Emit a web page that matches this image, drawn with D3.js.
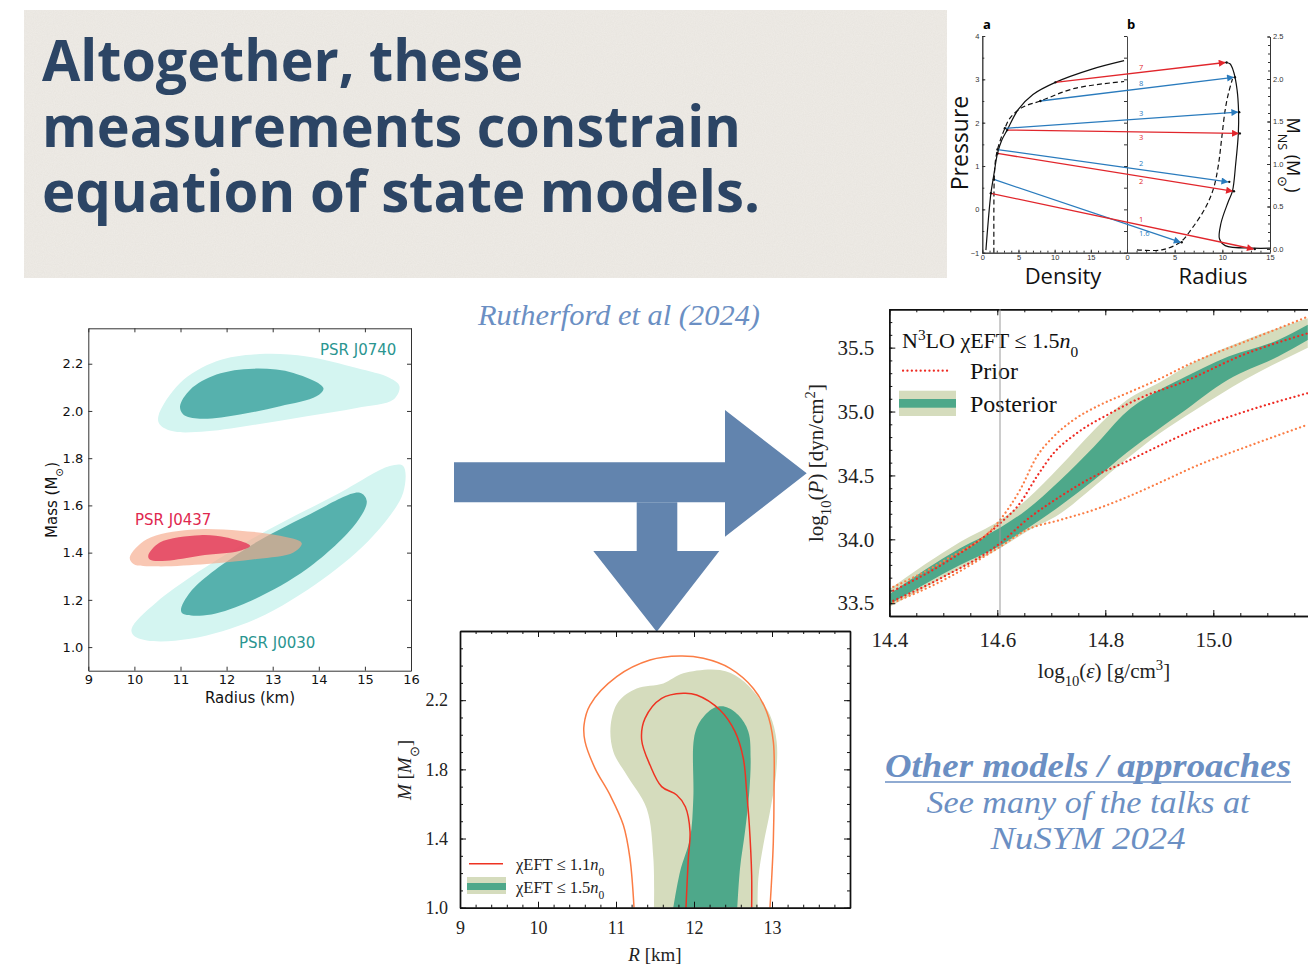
<!DOCTYPE html>
<html>
<head>
<meta charset="utf-8">
<script src="https://cdn.jsdelivr.net/npm/d3@7"></script>
<style>
  html, body { margin: 0; padding: 0; background: #fff; overflow: hidden; }
  svg { display: block; }
</style>
</head>
<body>
<svg id="slide" width="1308" height="965"></svg>
<script>
// ---------------- slide text ----------------
const titleLines = ['Altogether, these', 'measurements constrain', 'equation of state models.'];
const citation = 'Rutherford et al (2024)';
const otherLines = ['Other models / approaches', 'See many of the talks at', 'NuSYM 2024'];

// ---------------- inset: (a) pressure vs density, (b) mass vs radius ----------------
const densityTicks = [0, 5, 10, 15];
const pressureTicks = [-1, 0, 1, 2, 3, 4];
const radiusTicksB = [0, 5, 10, 15];
const massTicksB = [0, 0.5, 1.0, 1.5, 2.0, 2.5];
const eosSolid = [[0.5,-0.94],[0.83,-0.25],[1.19,0.37],[1.6,0.8],[2.1,1.29],[2.7,1.6],[3.44,1.83],[4.95,2.3],[7,2.65],[10.1,2.93],[15.05,3.23],[19.6,3.43]];
const eosDashed = [[1.6,-1],[1.6,0.0],[1.65,0.7],[1.8,1.1],[2.1,1.38],[2.6,1.65],[3.12,1.87],[3.8,2.1],[5.5,2.35],[8.03,2.5],[12.75,2.79],[19.6,2.95]];
const mrSolid = [[15,0.01],[13.25,0.01],[10.3,0.04],[9.7,0.12],[9.85,0.3],[10.6,0.55],[11.06,0.68],[11.4,1.0],[11.68,1.36],[11.7,1.63],[11.55,1.87],[11.2,2.08],[10.8,2.18],[10.29,2.194]];
const mrDashed = [[1.05,-0.01],[3.66,-0.01],[5.58,0.08],[6.8,0.24],[8.2,0.48],[9.07,0.71],[9.59,0.99],[9.94,1.31],[10.29,1.63],[10.64,1.83],[11.06,2.0]];
const arrowLabels = ['7', '8', '3', '3', '2', '2', '1.6', '1'];
const arrowKinds = ['red', 'blue', 'blue', 'red', 'blue', 'red', 'blue', 'red'];
const arrowStart = [[10.1,2.93],[8.03,2.50],[3.12,1.87],[3.44,1.83],[2.1,1.38],[2.1,1.29],[1.6,0.69],[1.19,0.37]];
const arrowEnd = [[10.29,2.194],[11.16,2.02],[11.61,1.61],[11.68,1.36],[10.57,0.79],[11.06,0.68],[5.58,0.08],[13.25,0.0]];
const arrowLabelSide = [1, 1, 1, -1, 1, -1, -1, 1];

// ---------------- left: NICER mass-radius contours [R km, M Msun] ----------------
const radiusTicks = [9, 10, 11, 12, 13, 14, 15, 16];
const massTicks = [1.0, 1.2, 1.4, 1.6, 1.8, 2.0, 2.2];
const j0740Outer = [[10.52,1.978],[10.99,2.118],[11.78,2.21],[12.72,2.241],[13.74,2.231],[14.82,2.182],[15.54,2.14],[15.75,2.105],[15.62,2.048],[14.82,2.013],[13.74,1.978],[12.65,1.943],[11.57,1.914],[10.84,1.914],[10.55,1.943]];
const j0740Inner = [[10.99,2.02],[11.21,2.09],[11.78,2.154],[12.58,2.179],[13.45,2.161],[14.1,2.097],[13.95,2.062],[13.16,2.02],[12.29,1.985],[11.42,1.967],[11.06,1.985]];
const j0030Outer = [[9.94,1.078],[10.48,1.19],[12.29,1.429],[14.46,1.654],[15.54,1.767],[15.83,1.767],[15.83,1.654],[15.18,1.471],[14.1,1.289],[12.65,1.12],[11.21,1.035],[10.27,1.028],[9.98,1.05]];
const j0030Inner = [[11.02,1.148],[11.21,1.232],[12.29,1.401],[13.74,1.556],[14.89,1.654],[15.04,1.619],[14.82,1.528],[13.74,1.331],[12.29,1.176],[11.49,1.134]];
const j0437Outer = [[9.9,1.38],[10.27,1.457],[11.21,1.497],[12.29,1.493],[13.16,1.471],[13.63,1.44],[13.45,1.401],[12.65,1.373],[11.57,1.352],[10.48,1.342],[9.98,1.352]];
const j0437Inner = [[10.3,1.387],[10.55,1.443],[11.42,1.474],[12.0,1.464],[12.51,1.429],[12.29,1.408],[11.42,1.387],[10.7,1.366],[10.34,1.37]];
const pulsarNames = ['PSR J0740', 'PSR J0437', 'PSR J0030'];

// ---------------- right: EOS posterior, log10(eps) vs log10(P) ----------------
const epsTicks = [14.4, 14.6, 14.8, 15.0];
const logPTicks = [33.5, 34.0, 34.5, 35.0, 35.5];
const darkEps = [14.4, 14.531, 14.605, 14.654, 14.716, 14.778, 14.84, 14.901, 14.938, 15.028, 15.12, 15.175];
const darkLow = [33.49, 33.80, 33.95, 34.08, 34.26, 34.46, 34.68, 34.87, 34.98, 35.25, 35.43, 35.56];
const darkHigh = [33.57, 33.93, 34.09, 34.23, 34.46, 34.72, 35.0, 35.17, 35.25, 35.43, 35.56, 35.68];
const lightEps = [14.4, 14.531, 14.605, 14.654, 14.716, 14.778, 14.84, 14.901, 14.966, 15.059, 15.175];
const lightLow = [33.47, 33.77, 33.93, 34.06, 34.2, 34.41, 34.63, 34.83, 35.01, 35.25, 35.5];
const lightHigh = [33.61, 33.98, 34.15, 34.31, 34.57, 34.85, 35.09, 35.23, 35.39, 35.56, 35.73];
const priorOuterHigh = [[14.4,33.614],[14.503,33.836],[14.605,34.151],[14.642,34.386],[14.673,34.646],[14.704,34.803],[14.741,34.934],[14.79,35.051],[14.84,35.143],[14.889,35.233],[14.966,35.391],[15.059,35.547],[15.175,35.742]];
const priorInnerHigh = [[14.4,33.583],[14.503,33.817],[14.605,34.125],[14.642,34.282],[14.673,34.49],[14.704,34.673],[14.747,34.83],[14.809,34.986],[14.87,35.116],[14.938,35.22],[15.059,35.45],[15.175,35.612]];
const priorInnerLow = [[14.4,33.505],[14.503,33.713],[14.605,33.969],[14.654,34.151],[14.716,34.334],[14.778,34.49],[14.84,34.61],[14.904,34.74],[14.966,34.86],[15.059,35.0],[15.175,35.144]];
const priorOuterLow = [[14.4,33.492],[14.503,33.687],[14.605,33.942],[14.654,34.073],[14.716,34.151],[14.778,34.229],[14.84,34.33],[14.904,34.45],[14.966,34.57],[15.059,34.72],[15.175,34.897]];
const nsatLine = 14.605;

// ---------------- bottom: M-R posterior ----------------
const rTicks = [9, 10, 11, 12, 13];
const mTicks = [1.0, 1.4, 1.8, 2.2];
const mrLight = [[11.487,1.0],[11.479,1.285],[11.393,1.574],[11.137,1.767],[10.966,1.902],[10.932,2.056],[11.03,2.191],[11.265,2.268],[11.607,2.297],[11.863,2.355],[12.333,2.374],[12.59,2.326],[12.803,2.23],[12.974,2.114],[13.06,1.96],[13.051,1.767],[12.974,1.555],[12.889,1.362],[12.825,1.17],[12.816,1.0]];
const mrDark = [[11.735,1.0],[11.821,1.208],[11.949,1.401],[11.991,1.632],[12.0,1.979],[12.077,2.076],[12.248,2.153],[12.397,2.162],[12.568,2.114],[12.697,2.018],[12.726,1.864],[12.709,1.671],[12.654,1.44],[12.59,1.227],[12.556,1.0]];
const mr11Line = [[11.897,1.0],[11.927,1.285],[11.949,1.44],[11.889,1.584],[11.778,1.652],[11.585,1.7],[11.436,1.825],[11.329,1.97],[11.372,2.095],[11.585,2.211],[11.863,2.24],[12.034,2.23],[12.333,2.143],[12.526,2.018],[12.632,1.864],[12.675,1.671],[12.709,1.478],[12.739,1.189],[12.739,1.0]];
const mr15Outer = [[11.231,1.0],[11.179,1.285],[11.094,1.478],[10.923,1.652],[10.731,1.806],[10.603,1.96],[10.59,2.056],[10.667,2.172],[11.009,2.336],[11.436,2.432],[11.821,2.455],[12.12,2.442],[12.462,2.384],[12.761,2.268],[12.932,2.133],[13.017,1.96],[13.026,1.671],[13.017,1.382],[12.996,1.17],[12.974,1.0]];

// ---------------- drawing ----------------
const svg = d3.select('#slide');
const defs = svg.append('defs');
const slideBlue = '#6b8fc3';

// helper: text with sub / superscripts and italics
function rich(sel, parts) {
    parts.forEach(([t, k]) => {
        const ts = sel.append('tspan').text(t);
        if (k && k.includes('it')) ts.attr('font-style', 'italic');
        if (k && k.includes('sup')) ts.attr('font-size', '70%').attr('baseline-shift', 'super');
        if (k && k.includes('sub')) ts.attr('font-size', '70%').attr('baseline-shift', 'sub');
    });
    return sel;
}

// paper banner
const paper = defs.append('filter').attr('id', 'paper')
    .attr('x', 0).attr('y', 0).attr('width', 1).attr('height', 1);
paper.append('feTurbulence').attr('type', 'fractalNoise')
    .attr('baseFrequency', 0.9).attr('numOctaves', 2).attr('seed', 4).attr('result', 'n');
paper.append('feColorMatrix').attr('in', 'n').attr('type', 'matrix')
    .attr('values', '0 0 0 0 0.6  0 0 0 0 0.57  0 0 0 0 0.52  0 0 0 0.22 0');
svg.append('rect').attr('x', 24).attr('y', 10).attr('width', 923).attr('height', 268).attr('fill', '#efece7');
svg.append('rect').attr('x', 24).attr('y', 10).attr('width', 923).attr('height', 268).attr('filter', 'url(#paper)');

const titleWidths = [481, 699, 718];
svg.append('g').selectAll('text').data(titleLines).join('text')
    .attr('x', 42).attr('y', (d, i) => 81 + i * 65.5)
    .attr('textLength', (d, i) => titleWidths[i]).attr('lengthAdjust', 'spacingAndGlyphs')
    .attr('font-family', 'Open Sans').attr('font-weight', 700).attr('font-size', 58)
    .attr('fill', '#2c4565').text(d => d);

// ---------- inset ----------
const inset = svg.append('g').attr('font-family', 'Open Sans');
inset.append('rect').attr('x', 948).attr('y', 16).attr('width', 360).attr('height', 274).attr('fill', '#fff');
const aX = d3.scaleLinear([0, 20], [982.3, 1127]);
const pY = d3.scaleLinear([-1, 4], [252.7, 36]);
const bX = d3.scaleLinear([0, 15], [1127, 1270]);
const mY = d3.scaleLinear([0, 2.5], [249, 36.5]);

function styleInsetAxis(g) {
    g.select('.domain').attr('stroke', '#333').attr('stroke-width', 0.9);
    g.selectAll('.tick line').attr('stroke', '#333');
    g.selectAll('.tick text').attr('font-size', 7.5).attr('fill', '#333');
}
inset.append('g').attr('transform', 'translate(982.3,0)')
    .call(d3.axisLeft(pY).tickValues(pressureTicks).tickSize(-3).tickSizeOuter(0).tickPadding(3).tickFormat(d3.format('d')))
    .call(styleInsetAxis);
inset.append('g').attr('transform', 'translate(982.3,0)')
    .call(d3.axisLeft(pY).tickValues(d3.range(-1, 4.01, 0.5)).tickSize(-2).tickSizeOuter(0).tickFormat(''))
    .call(styleInsetAxis);
inset.append('g').attr('transform', 'translate(0,252.7)')
    .call(d3.axisBottom(aX).tickValues(densityTicks).tickSize(-3).tickSizeOuter(0).tickPadding(2).tickFormat(d3.format('d')))
    .call(styleInsetAxis);
inset.append('g').attr('transform', 'translate(0,252.7)')
    .call(d3.axisBottom(aX).tickValues(d3.range(0, 20, 1)).tickSize(-2).tickSizeOuter(0).tickFormat(''))
    .call(styleInsetAxis);
inset.append('g').attr('transform', 'translate(0,252.7)')
    .call(d3.axisBottom(bX).tickValues(radiusTicksB).tickSize(-3).tickSizeOuter(0).tickPadding(2).tickFormat(d3.format('d')))
    .call(styleInsetAxis);
inset.append('g').attr('transform', 'translate(0,252.7)')
    .call(d3.axisBottom(bX).tickValues(d3.range(0, 15, 1)).tickSize(-2).tickSizeOuter(0).tickFormat(''))
    .call(styleInsetAxis);
inset.append('g').attr('transform', 'translate(1270,0)')
    .call(d3.axisRight(mY).tickValues(massTicksB).tickSize(-3).tickSizeOuter(0).tickPadding(3).tickFormat(d3.format('.1f')))
    .call(styleInsetAxis);
inset.append('g').attr('transform', 'translate(1270,0)')
    .call(d3.axisRight(mY).tickValues(d3.range(0, 2.51, 0.1)).tickSize(-2).tickSizeOuter(0).tickFormat(''))
    .call(styleInsetAxis);
inset.append('g').attr('transform', 'translate(1127,0)')
    .call(d3.axisLeft(pY).tickValues(d3.range(-1, 4.01, 0.5)).tickSize(3).tickSizeOuter(0).tickFormat(''))
    .call(styleInsetAxis);

const insetLineA = d3.line().x(d => aX(d[0])).y(d => pY(d[1])).curve(d3.curveCatmullRom);
const insetLineB = d3.line().x(d => bX(d[0])).y(d => mY(d[1])).curve(d3.curveCatmullRom);
inset.append('path').attr('d', insetLineA(eosSolid))
    .attr('fill', 'none').attr('stroke', '#111').attr('stroke-width', 1.2);
inset.append('path').attr('d', insetLineA(eosDashed))
    .attr('fill', 'none').attr('stroke', '#111').attr('stroke-width', 1.2).attr('stroke-dasharray', '5,3');
inset.append('path').attr('d', insetLineB(mrSolid))
    .attr('fill', 'none').attr('stroke', '#111').attr('stroke-width', 1.2);
inset.append('path').attr('d', insetLineB(mrDashed))
    .attr('fill', 'none').attr('stroke', '#111').attr('stroke-width', 1.2).attr('stroke-dasharray', '5,3');

const kindColor = { red: '#e1262c', blue: '#2a7bbd' };
['red', 'blue'].forEach(k => {
    defs.append('marker').attr('id', 'head-' + k)
        .attr('viewBox', '0 0 10 10').attr('refX', 9).attr('refY', 5)
        .attr('markerWidth', 9).attr('markerHeight', 7).attr('markerUnits', 'userSpaceOnUse')
        .attr('orient', 'auto')
        .append('path').attr('d', 'M0,0L10,5L0,10Z').attr('fill', kindColor[k]);
});
arrowLabels.forEach((lab, i) => {
    const x0 = aX(arrowStart[i][0]), y0 = pY(arrowStart[i][1]);
    const x1 = bX(arrowEnd[i][0]), y1 = mY(arrowEnd[i][1]);
    inset.append('line').attr('x1', x0).attr('y1', y0).attr('x2', x1).attr('y2', y1)
        .attr('stroke', kindColor[arrowKinds[i]]).attr('stroke-width', 1.3)
        .attr('marker-end', `url(#head-${arrowKinds[i]})`);
    inset.append('circle').attr('cx', x0).attr('cy', y0).attr('r', 1.2).attr('fill', '#111');
    inset.append('circle').attr('cx', x1 + 1.5).attr('cy', y1).attr('r', 1.2).attr('fill', '#111');
    const lx = 1139;
    const ly = y0 + (y1 - y0) * (lx - x0) / (x1 - x0);
    inset.append('text').attr('x', lx).attr('y', arrowLabelSide[i] > 0 ? ly - 3 : ly + 8)
        .attr('font-size', 7.5).attr('fill', kindColor[arrowKinds[i]]).text(lab);
});
inset.append('text').attr('x', 983).attr('y', 29).attr('font-size', 13).attr('font-weight', 700).text('a');
inset.append('text').attr('x', 1127).attr('y', 29).attr('font-size', 13).attr('font-weight', 700).text('b');
inset.append('text').attr('x', 1063).attr('y', 284).attr('text-anchor', 'middle').attr('font-size', 22).attr('fill', '#111').text('Density');
inset.append('text').attr('x', 1213).attr('y', 284).attr('text-anchor', 'middle').attr('font-size', 22).attr('fill', '#111').text('Radius');
inset.append('text').attr('transform', 'translate(968,143) rotate(-90)').attr('text-anchor', 'middle')
    .attr('font-size', 23).attr('fill', '#111').text('Pressure');
rich(inset.append('text').attr('transform', 'translate(1287,155) rotate(90)').attr('text-anchor', 'middle')
    .attr('font-size', 18).attr('fill', '#111'), [['M'], ['NS', 'sub'], [' (M'], ['⊙', 'sub'], [')']]);

// ---------- big arrows ----------
svg.append('path').attr('fill', '#6284ae')
    .attr('d', 'M454,462.3H725V410L806.7,473.3L725,536.7V502.3H454Z');
svg.append('path').attr('fill', '#6284ae')
    .attr('d', 'M636.7,502.3H677.3V551H719.3L656.7,631.7L593.3,551H636.7Z');

svg.append('text').attr('x', 478).attr('y', 325).attr('textLength', 282).attr('lengthAdjust', 'spacingAndGlyphs')
    .attr('font-family', 'Liberation Serif').attr('font-style', 'italic').attr('font-size', 30)
    .attr('fill', slideBlue).text(citation);

// ---------- right chart ----------
const right = svg.append('g').attr('font-family', 'Liberation Serif');
const eX = d3.scaleLinear([14.4, 15.3], [889.3, 1375.3]);
const lpY = d3.scaleLinear([33.4, 35.8], [616, 309.3]);
defs.append('clipPath').attr('id', 'clipR').append('rect')
    .attr('x', 889.3).attr('y', 309.3).attr('width', 500).attr('height', 306.7);
const plotR = right.append('g').attr('clip-path', 'url(#clipR)');
const bandArea = (xs, lo, hi) => d3.area().x((d, i) => eX(xs[i])).y0((d, i) => lpY(lo[i])).y1((d, i) => lpY(hi[i]))
    .curve(d3.curveMonotoneX)(xs);
plotR.append('path').attr('d', bandArea(lightEps, lightLow, lightHigh)).attr('fill', '#d5dcbd');
plotR.append('path').attr('d', bandArea(darkEps, darkLow, darkHigh)).attr('fill', '#4ea88a');
const priorLine = d3.line().x(d => eX(d[0])).y(d => lpY(d[1])).curve(d3.curveMonotoneX);
[[priorOuterHigh, '#fb7d45'], [priorOuterLow, '#fb7d45'], [priorInnerHigh, '#ee2a22'], [priorInnerLow, '#ee2a22']]
    .forEach(([pts, c]) => plotR.append('path').attr('d', priorLine(pts)).attr('fill', 'none')
        .attr('stroke', c).attr('stroke-width', 2.2).attr('stroke-linecap', 'round').attr('stroke-dasharray', '0.1,4.3'));

function styleSerifAxis(g, size) {
    g.select('.domain').attr('stroke', '#111').attr('stroke-width', 1.4);
    g.selectAll('.tick line').attr('stroke', '#111').attr('stroke-width', 1);
    g.selectAll('.tick text').attr('font-size', size).attr('fill', '#222').attr('font-family', 'Liberation Serif');
}
right.append('g').attr('transform', 'translate(0,616)')
    .call(d3.axisBottom(eX).tickValues(d3.range(14.4, 15.31, 0.05)).tickSize(-3).tickSizeOuter(0).tickFormat(''))
    .call(g => styleSerifAxis(g, 21));
right.append('g').attr('transform', 'translate(0,616)')
    .call(d3.axisBottom(eX).tickValues(epsTicks).tickSize(-6).tickSizeOuter(0).tickPadding(16).tickFormat(d3.format('.1f')))
    .call(g => styleSerifAxis(g, 21));
right.append('g').attr('transform', 'translate(0,309.3)')
    .call(d3.axisTop(eX).tickValues(d3.range(14.4, 15.31, 0.05)).tickSize(-3).tickSizeOuter(0).tickFormat(''))
    .call(g => styleSerifAxis(g, 21));
right.append('g').attr('transform', 'translate(0,309.3)')
    .call(d3.axisTop(eX).tickValues(epsTicks.concat([15.2])).tickSize(-6).tickSizeOuter(0).tickFormat(''))
    .call(g => styleSerifAxis(g, 21));
right.append('g').attr('transform', 'translate(889.3,0)')
    .call(d3.axisLeft(lpY).tickValues(d3.range(33.4, 35.81, 0.1)).tickSize(-3).tickSizeOuter(0).tickFormat(''))
    .call(g => styleSerifAxis(g, 21));
right.append('g').attr('transform', 'translate(889.3,0)')
    .call(d3.axisLeft(lpY).tickValues(logPTicks).tickSize(-6).tickSizeOuter(0).tickPadding(15).tickFormat(d3.format('.1f')))
    .call(g => styleSerifAxis(g, 21));

// legend
rich(right.append('text').attr('x', 902).attr('y', 348).attr('font-size', 22).attr('fill', '#111'),
    [['N'], ['3', 'sup'], ['LO χEFT ≤ 1.5'], ['n', 'it'], ['0', 'sub']]);
right.append('line').attr('x1', 903).attr('x2', 950).attr('y1', 370.7).attr('y2', 370.7)
    .attr('stroke', '#ee2a22').attr('stroke-width', 2.2).attr('stroke-linecap', 'round').attr('stroke-dasharray', '0.1,4.3');
right.append('text').attr('x', 970).attr('y', 379).attr('font-size', 24).attr('fill', '#111').text('Prior');
right.append('rect').attr('x', 899).attr('y', 390.7).attr('width', 57).attr('height', 25.3).attr('fill', '#d5dcbd');
right.append('rect').attr('x', 899).attr('y', 399).attr('width', 57).attr('height', 8.7).attr('fill', '#4ea88a');
right.append('text').attr('x', 970).attr('y', 412).attr('font-size', 24).attr('fill', '#111').text('Posterior');
right.append('line').attr('x1', eX(nsatLine)).attr('x2', eX(nsatLine)).attr('y1', 309.3).attr('y2', 616)
    .attr('stroke', '#999').attr('stroke-width', 1);

rich(right.append('text').attr('x', 1104).attr('y', 678).attr('text-anchor', 'middle').attr('font-size', 21).attr('fill', '#222'),
    [['log'], ['10', 'sub'], ['('], ['ε', 'it'], [') [g/cm'], ['3', 'sup'], [']']]);
rich(right.append('text').attr('transform', 'translate(823,463) rotate(-90)').attr('text-anchor', 'middle')
    .attr('font-size', 21).attr('fill', '#222'),
    [['log'], ['10', 'sub'], ['('], ['P', 'it'], [') [dyn/cm'], ['2', 'sup'], [']']]);

// ---------- bottom chart ----------
const bottom = svg.append('g').attr('font-family', 'Liberation Serif');
const rX = d3.scaleLinear([9, 14], [460, 850]);
const mBY = d3.scaleLinear([1.0, 2.6], [907.7, 631]);
defs.append('clipPath').attr('id', 'clipB').append('rect')
    .attr('x', 460).attr('y', 631).attr('width', 390).attr('height', 276.7);
const plotB = bottom.append('g').attr('clip-path', 'url(#clipB)');
const mrCurve = d3.line().x(d => rX(d[0])).y(d => mBY(d[1])).curve(d3.curveCatmullRom);
plotB.append('path').attr('d', mrCurve(mrLight)).attr('fill', '#d5dcbd');
plotB.append('path').attr('d', mrCurve(mrDark)).attr('fill', '#4ea88a');
plotB.append('path').attr('d', mrCurve(mr15Outer)).attr('fill', 'none').attr('stroke', '#fb7d45').attr('stroke-width', 1.5);
plotB.append('path').attr('d', mrCurve(mr11Line)).attr('fill', 'none').attr('stroke', '#ee3322').attr('stroke-width', 1.5);

bottom.append('g').attr('transform', 'translate(0,907.7)')
    .call(d3.axisBottom(rX).tickValues(d3.range(9, 14.01, 0.2)).tickSize(-3).tickSizeOuter(0).tickFormat(''))
    .call(g => styleSerifAxis(g, 18));
bottom.append('g').attr('transform', 'translate(0,907.7)')
    .call(d3.axisBottom(rX).tickValues(rTicks).tickSize(-6).tickSizeOuter(0).tickPadding(14).tickFormat(d3.format('d')))
    .call(g => styleSerifAxis(g, 18));
bottom.append('g').attr('transform', 'translate(0,631)')
    .call(d3.axisTop(rX).tickValues(d3.range(9, 14.01, 0.2)).tickSize(-3).tickSizeOuter(0).tickFormat(''))
    .call(g => styleSerifAxis(g, 18));
bottom.append('g').attr('transform', 'translate(0,631)')
    .call(d3.axisTop(rX).tickValues(rTicks).tickSize(-6).tickSizeOuter(0).tickFormat(''))
    .call(g => styleSerifAxis(g, 18));
bottom.append('g').attr('transform', 'translate(460,0)')
    .call(d3.axisLeft(mBY).tickValues(d3.range(1.0, 2.61, 0.1)).tickSize(-3).tickSizeOuter(0).tickFormat(''))
    .call(g => styleSerifAxis(g, 18));
bottom.append('g').attr('transform', 'translate(460,0)')
    .call(d3.axisLeft(mBY).tickValues(mTicks).tickSize(-6).tickSizeOuter(0).tickPadding(12).tickFormat(d3.format('.1f')))
    .call(g => styleSerifAxis(g, 18));
bottom.append('g').attr('transform', 'translate(850,0)')
    .call(d3.axisRight(mBY).tickValues(d3.range(1.0, 2.61, 0.1)).tickSize(-3).tickSizeOuter(0).tickFormat(''))
    .call(g => styleSerifAxis(g, 18));
bottom.append('g').attr('transform', 'translate(850,0)')
    .call(d3.axisRight(mBY).tickValues(mTicks).tickSize(-6).tickSizeOuter(0).tickFormat(''))
    .call(g => styleSerifAxis(g, 18));

bottom.append('line').attr('x1', 469).attr('x2', 503).attr('y1', 863.7).attr('y2', 863.7)
    .attr('stroke', '#ee3322').attr('stroke-width', 1.5);
rich(bottom.append('text').attr('x', 516).attr('y', 870).attr('font-size', 16.5).attr('fill', '#222'),
    [['χEFT ≤ 1.1'], ['n', 'it'], ['0', 'sub']]);
bottom.append('rect').attr('x', 467).attr('y', 877).attr('width', 39).attr('height', 17).attr('fill', '#d5dcbd');
bottom.append('rect').attr('x', 467).attr('y', 883).attr('width', 39).attr('height', 7).attr('fill', '#4ea88a');
rich(bottom.append('text').attr('x', 516).attr('y', 893).attr('font-size', 16.5).attr('fill', '#222'),
    [['χEFT ≤ 1.5'], ['n', 'it'], ['0', 'sub']]);
rich(bottom.append('text').attr('x', 655).attr('y', 961).attr('text-anchor', 'middle').attr('font-size', 19).attr('fill', '#222'),
    [['R', 'it'], [' [km]']]);
rich(bottom.append('text').attr('transform', 'translate(411,770) rotate(-90)').attr('text-anchor', 'middle')
    .attr('font-size', 19).attr('fill', '#222'),
    [['M', 'it'], [' ['], ['M', 'it'], ['⊙', 'sub'], [']']]);

// ---------- left chart (drawn last, its white image covers the corner) ----------
const left = svg.append('g').attr('font-family', 'DejaVu Sans');
left.append('rect').attr('x', 30).attr('y', 315).attr('width', 394).attr('height', 391).attr('fill', '#fff');
const lX = d3.scaleLinear([9, 16], [88.3, 411]);
const lY = d3.scaleLinear([0.9, 2.35], [670.7, 328.3]);
const blob = d3.line().x(d => lX(d[0])).y(d => lY(d[1])).curve(d3.curveCatmullRomClosed.alpha(0.5));
left.append('path').attr('d', blob(j0030Outer)).attr('fill', '#d4f5f1');
left.append('path').attr('d', blob(j0740Outer)).attr('fill', '#d4f5f1');
left.append('path').attr('d', blob(j0030Inner)).attr('fill', '#56b1ad');
left.append('path').attr('d', blob(j0740Inner)).attr('fill', '#56b1ad');
left.append('path').attr('d', blob(j0437Outer)).attr('fill', '#f6a98a').attr('fill-opacity', 0.65);
left.append('path').attr('d', blob(j0437Inner)).attr('fill', '#e43f5e').attr('fill-opacity', 0.85);

function styleSansAxis(g) {
    g.select('.domain').attr('stroke', '#333').attr('stroke-width', 1);
    g.selectAll('.tick line').attr('stroke', '#333');
    g.selectAll('.tick text').attr('font-size', 13).attr('fill', '#111').attr('font-family', 'DejaVu Sans');
}
left.append('g').attr('transform', 'translate(0,670.7)')
    .call(d3.axisBottom(lX).tickValues(radiusTicks).tickSize(-4).tickSizeOuter(0).tickPadding(4).tickFormat(d3.format('d')))
    .call(styleSansAxis);
left.append('g').attr('transform', 'translate(0,328.3)')
    .call(d3.axisTop(lX).tickValues(radiusTicks).tickSize(-4).tickSizeOuter(0).tickFormat(''))
    .call(styleSansAxis);
left.append('g').attr('transform', 'translate(88.3,0)')
    .call(d3.axisLeft(lY).tickValues(massTicks).tickSize(-4).tickSizeOuter(0).tickPadding(5).tickFormat(d3.format('.1f')))
    .call(styleSansAxis);
left.append('g').attr('transform', 'translate(411,0)')
    .call(d3.axisRight(lY).tickValues(massTicks).tickSize(-4).tickSizeOuter(0).tickFormat(''))
    .call(styleSansAxis);
left.append('text').attr('x', 320).attr('y', 355).attr('font-size', 15).attr('fill', '#2a9590').text(pulsarNames[0]);
left.append('text').attr('x', 135).attr('y', 525).attr('font-size', 15).attr('fill', '#e0284f').text(pulsarNames[1]);
left.append('text').attr('x', 239).attr('y', 648).attr('font-size', 15).attr('fill', '#2a9590').text(pulsarNames[2]);
left.append('text').attr('x', 250).attr('y', 703).attr('text-anchor', 'middle').attr('font-size', 15).attr('fill', '#111').text('Radius (km)');
rich(left.append('text').attr('transform', 'translate(57,500) rotate(-90)').attr('text-anchor', 'middle')
    .attr('font-size', 15).attr('fill', '#111'), [['Mass (M'], ['⊙', 'sub'], [')']]);

// ---------- other models note ----------
const note = svg.append('g').attr('font-family', 'Liberation Serif').attr('font-style', 'italic').attr('fill', slideBlue);
note.append('text').attr('x', 885).attr('y', 777).attr('textLength', 406).attr('lengthAdjust', 'spacingAndGlyphs')
    .attr('font-size', 33).attr('font-weight', 700).text(otherLines[0]);
note.append('line').attr('x1', 885).attr('x2', 1291).attr('y1', 782).attr('y2', 782)
    .attr('stroke', slideBlue).attr('stroke-width', 1.6);
note.append('text').attr('x', 1088).attr('y', 813).attr('text-anchor', 'middle').attr('textLength', 323)
    .attr('lengthAdjust', 'spacingAndGlyphs').attr('font-size', 32).text(otherLines[1]);
note.append('text').attr('x', 1088).attr('y', 849).attr('text-anchor', 'middle').attr('textLength', 195)
    .attr('lengthAdjust', 'spacingAndGlyphs').attr('font-size', 32).text(otherLines[2]);
</script>
</body>
</html>
